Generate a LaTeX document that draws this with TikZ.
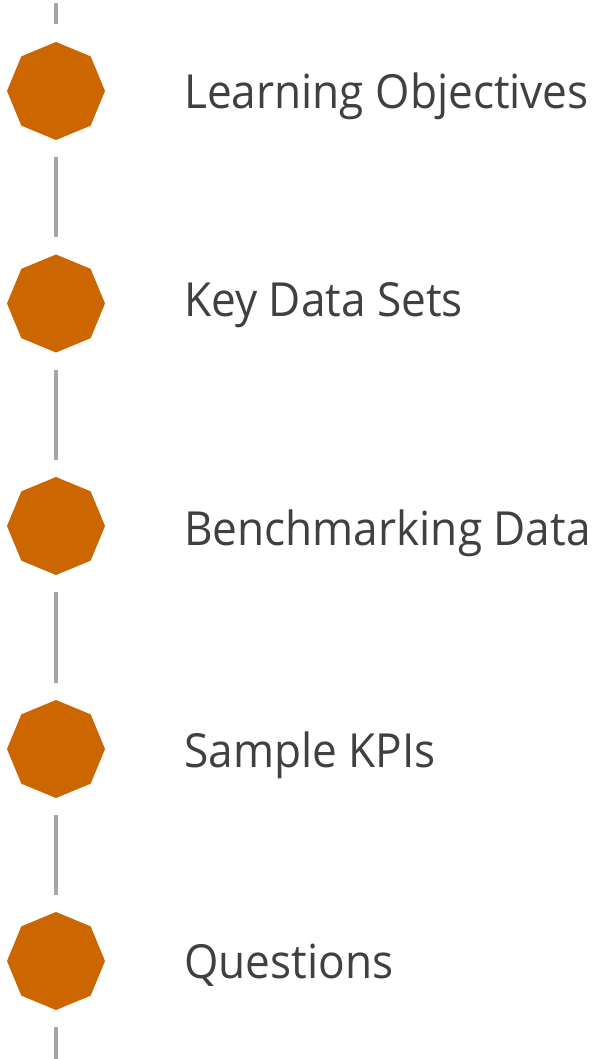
\documentclass[tikz,border=0pt]{standalone}
\usepackage{fontspec}
\setmainfont[FakeStretch=0.94]{Open Sans}
\usetikzlibrary{shapes.geometric}
\definecolor{octfill}{HTML}{CC6600}
\definecolor{linegray}{HTML}{A6A6A6}
\definecolor{txtgray}{HTML}{404040}
\tikzset{
  oct/.style={regular polygon, regular polygon sides=8, shape border rotate=22.5, fill=octfill, draw=none, minimum size=98pt, inner sep=0pt},
  lbl/.style={anchor=base west, inner sep=0pt, text=txtgray, font=\fontsize{47}{52}\selectfont},
  seg/.style={draw=linegray, line width=3.3pt}
}
\begin{document}
\begin{tikzpicture}[x=1pt,y=-1pt]
\useasboundingbox (0,0) rectangle (596,1059);
\node[oct] (o1) at (56,91) {};
\node[oct] (o2) at (56,303.5) {};
\node[oct] (o3) at (56,526) {};
\node[oct] (o4) at (56,749) {};
\node[oct] (o5) at (56,961) {};
\node[lbl] (t1) at (184,109) {Learning Objectives};
\node[lbl] (t2) at (184,316) {Key Data Sets};
\node[lbl] (t3) at (184,545) {Benchmarking Data};
\node[lbl] (t4) at (184,767) {Sample KPIs};
\node[lbl] (t5) at (184,978) {Questions};
\coordinate (top) at (56,3);
\coordinate (bot) at (56,1059);
\draw[seg] (top) -- ([yshift=18pt]o1.north);
\draw[seg] ([yshift=-17pt]o1.south) -- ([yshift=17pt]o2.north);
\draw[seg] ([yshift=-17pt]o2.south) -- ([yshift=17pt]o3.north);
\draw[seg] ([yshift=-17pt]o3.south) -- ([yshift=17pt]o4.north);
\draw[seg] ([yshift=-17pt]o4.south) -- ([yshift=17pt]o5.north);
\draw[seg] ([yshift=-17pt]o5.south) -- (bot);
\end{tikzpicture}
\end{document}
